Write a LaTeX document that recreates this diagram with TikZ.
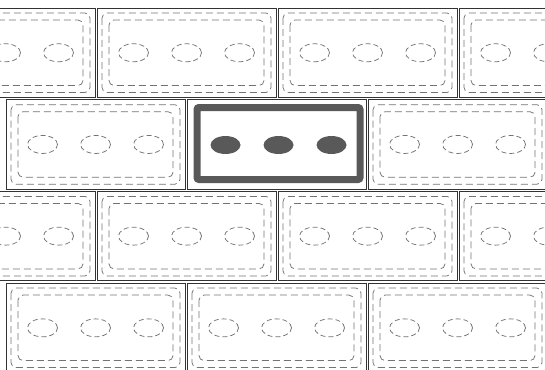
\documentclass[tikz,border=0pt]{standalone}
\usetikzlibrary{calc}
\begin{document}
\begin{tikzpicture}[
    x=1pt, y=-1pt,
    brick/.style={draw=black!80,line width=0.9pt},
    seam/.style={draw=black!55,line width=0.75pt,dash pattern=on 7pt off 4pt,rounded corners=5pt},
    hole/.style={draw=black!55,line width=0.75pt,dash pattern=on 5pt off 3pt},
    picked/.style={draw=black!65,line width=7pt,rounded corners=2pt},
    pickedhole/.style={fill=black!65}
  ]
  \useasboundingbox (0,0) rectangle (545,369);
  \clip (0,0) rectangle (545,369);
  % wall of bricks, every other row shifted by half a brick
  \foreach \r in {0,...,3} {
    \pgfmathsetmacro{\yo}{8+\r*91.7}
    \pgfmathsetmacro{\xs}{mod(\r,2)==0 ? -84 : 6}
    \foreach \k in {0,...,3} {
      \pgfmathsetmacro{\xo}{\xs+\k*181}
      \pgfmathtruncatemacro{\ishl}{and(\r==1,\k==1)}
      \draw[brick] (\xo,\yo) rectangle ++(179,89.5);
      \ifnum\ishl=0
        \draw[seam] (\xo+5,\yo+5) rectangle (\xo+174,\yo+84.5);
        \draw[seam] (\xo+12,\yo+12) rectangle (\xo+167,\yo+77.5);
        \foreach \dx in {-53,0,53}
          \draw[hole] (\xo+89.5+\dx,\yo+44.75) ellipse [x radius=15pt,y radius=9pt];
      \fi
    }
  }
  % the picked brick
  \draw[picked] (197,107.5) rectangle (360,179.5);
  \foreach \dx in {-53,0,53}
    \fill[pickedhole] (278.5+\dx,145) ellipse [x radius=15pt,y radius=9pt];
\end{tikzpicture}
\end{document}
